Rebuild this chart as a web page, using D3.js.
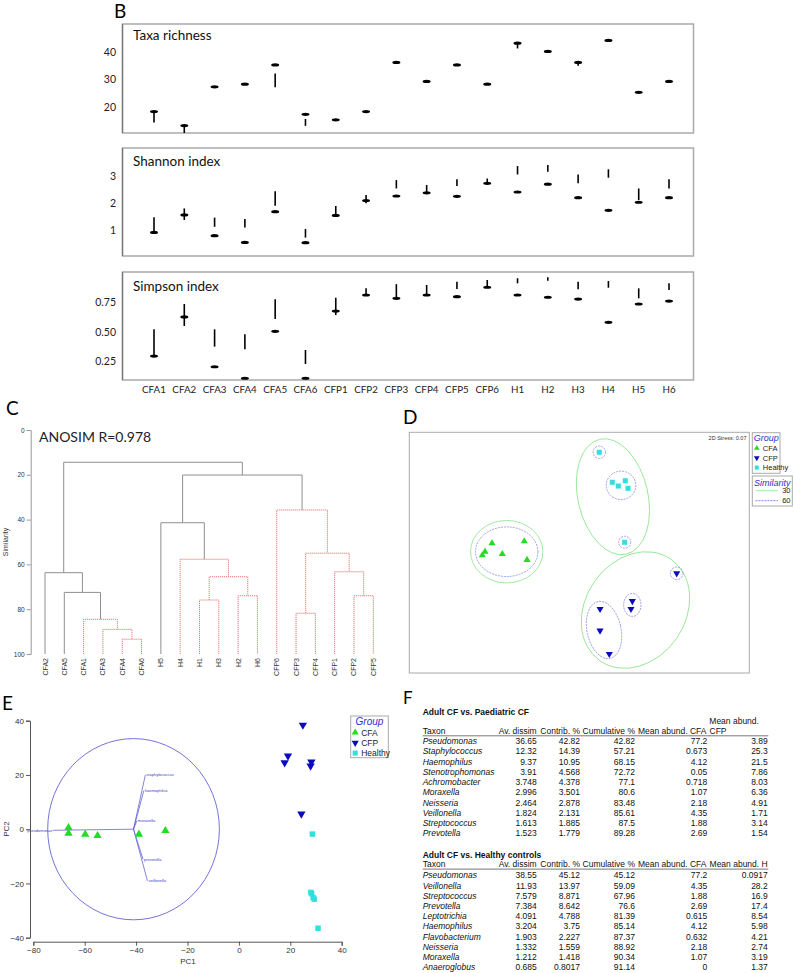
<!DOCTYPE html>
<html><head><meta charset="utf-8">
<script src="https://cdn.jsdelivr.net/npm/d3@7"></script>
<style>body{margin:0;background:#fff}svg{display:block}</style>
</head><body>
<svg id="c" width="794" height="973"></svg>
<script>
// ---------------- DATA ----------------
const samples = ["CFA1","CFA2","CFA3","CFA4","CFA5","CFA6","CFP1","CFP2","CFP3","CFP4","CFP5","CFP6","H1","H2","H3","H4","H5","H6"];

const richMean = [18.3,13.2,27.3,28.3,35.3,17.3,15.3,18.3,36.2,29.3,35.3,28.3,43.2,40.2,36.2,44.2,25.3,29.3];
const richLo   = [14.3,10.5,null,null,27.2,13.1,null,null,null,null,null,null,41.3,null,35.0,null,null,null];
const richHi   = [18.3,13.2,null,null,32.2,15.6,null,null,null,null,null,null,43.2,null,36.2,null,null,null];

const shanMean = [0.91,1.56,0.79,0.54,1.68,0.53,1.54,2.09,2.26,2.38,2.25,2.73,2.41,2.70,2.20,1.73,2.03,2.20];
const shanLo   = [0.91,1.37,1.12,1.09,1.90,0.72,1.54,1.99,2.54,2.38,2.63,2.73,3.06,3.16,2.73,2.94,2.11,2.54];
const shanHi   = [1.47,1.80,1.46,1.41,2.44,1.04,1.89,2.30,2.85,2.67,2.88,2.91,3.37,3.41,3.06,3.25,2.54,2.88];

const simpMean = [0.295,0.624,0.205,0.108,0.503,0.108,0.674,0.809,0.781,0.809,0.795,0.874,0.809,0.790,0.775,0.579,0.733,0.758];
const simpLo   = [0.295,0.548,0.374,0.352,0.607,0.228,0.640,0.809,0.781,0.809,0.860,0.874,0.907,0.929,0.857,0.870,0.781,0.851];
const simpHi   = [0.520,0.733,0.520,0.478,0.773,0.346,0.786,0.865,0.900,0.893,0.920,0.935,0.950,0.958,0.920,0.927,0.865,0.907];

const richTicks = [20,30,40];
const shanTicks = [1,2,3];
const simpTicks = [0.25,0.50,0.75];

// Dendrogram (C)
const dLeaves = ["CFA2","CFA5","CFA1","CFA3","CFA4","CFA6","H5","H4","H1","H3","H2","H6","CFP6","CFP3","CFP4","CFP1","CFP2","CFP5"];
// [left, right, similarity, simprof-red]
const dMerges = [
  ["CFA4","CFA6",93.4,1], // m0
  ["CFA3","m0",89.0,1],   // m1
  ["CFA1","m1",84.5,1],   // m2
  ["CFA5","m2",72.5,0],   // m3
  ["CFA2","m3",63.7,0],   // m4
  ["H1","H3",75.9,1],     // m5
  ["H2","H6",74.0,1],     // m6
  ["m5","m6",65.5,1],     // m7
  ["H4","m7",57.7,1],     // m8
  ["H5","m8",41.4,0],     // m9
  ["CFP2","CFP5",74.0,1], // m10
  ["CFP1","m10",63.3,1],  // m11
  ["CFP3","CFP4",81.8,1], // m12
  ["m12","m11",55.0,1],   // m13
  ["CFP6","m13",35.7,1],  // m14
  ["m9","m14",20.1,0],    // m15
  ["m4","m15",14.4,0]     // m16
];
const simTicks = [0,20,40,60,80,100];

// nMDS (D)
const mdsGroups = ["CFA","CFP","Healthy"];
const mdsCFA = [[-1.027,0.110],[-1.109,0.011],[-1.141,-0.031],[-0.906,-0.016],[-0.647,0.134],[-0.615,-0.086]];
const mdsCFP = [[1.146,-0.243],[0.624,-0.569],[0.608,-0.663],[0.244,-0.663],[0.244,-0.918],[0.353,-1.192]];
const mdsH   = [[0.235,1.181],[0.388,0.828],[0.459,0.784],[0.541,0.846],[0.573,0.757],[0.534,0.122]];
// similarity contours: [cx, cy, rx, ry, rotation]
const contour30 = [[-0.854,0.011,0.426,0.368,0],[0.396,0.658,0.412,0.694,-13],[0.661,-0.675,0.588,0.729,35]];
const contour60 = [[-0.854,0.011,0.367,0.292,0],[0.235,1.181,0.073,0.073,0],[0.491,0.792,0.174,0.167,0],
                   [0.534,0.122,0.071,0.071,0],[1.146,-0.243,0.074,0.074,0],[0.624,-0.616,0.102,0.135,0],[0.291,-0.910,0.2,0.341,-12]];
const simLevels = ["30","60"];

// PCA (E)
const pcaCFA = [[-66.3,0.55],[-66.3,-1.5],[-59.8,-1.9],[-55.0,-2.4],[-38.9,-1.9],[-28.6,-0.55]];
const pcaCFP = [[24.9,38.4],[19.1,27.0],[17.8,24.5],[28.2,24.8],[27.9,23.3],[24.3,5.6]];
const pcaH   = [[28.6,-1.8],[28.0,-23.3],[28.3,-23.8],[28.9,-25.2],[29.3,-25.8],[30.8,-36.5]];
const pcaOrigin = [-41,0];
const pcaRadius = 33.4;
const pcaVectors = ["pseudomonas","staphylococcus","haemophilus","moraxella","prevotella","veillonella"];
const pcaVecEnd = [[-72.4,-0.4],[-36.4,20.0],[-37.0,14.2],[-39.7,3.1],[-37.3,-11.1],[-35.6,-19.0]];
const pcaXTicks = [-80,-60,-40,-20,0,20,40];
const pcaYTicks = [-40,-20,0,20,40];

// SIMPER tables (F)
const taxa1 = ["Pseudomonas","Staphylococcus","Haemophilus","Stenotrophomonas","Achromobacter","Moraxella","Neisseria","Veillonella","Streptococcus","Prevotella"];
const avDis1 = [36.65,12.32,9.37,3.91,3.748,2.996,2.464,1.824,1.613,1.523];
const contr1 = [42.82,14.39,10.95,4.568,4.378,3.501,2.878,2.131,1.885,1.779];
const cumul1 = [42.82,57.21,68.15,72.72,77.1,80.6,83.48,85.61,87.5,89.28];
const mCFA1  = [77.2,0.673,4.12,0.05,0.718,1.07,2.18,4.35,1.88,2.69];
const mCFP1  = [3.89,25.3,21.5,7.86,8.03,6.36,4.91,1.71,3.14,1.54];

const taxa2 = ["Pseudomonas","Veillonella","Streptococcus","Prevotella","Leptotrichia","Haemophilus","Flavobacterium","Neisseria","Moraxella","Anaeroglobus"];
const avDis2 = [38.55,11.93,7.579,7.384,4.091,3.204,1.903,1.332,1.212,0.685];
const contr2 = [45.12,13.97,8.871,8.642,4.788,3.75,2.227,1.559,1.418,0.8017];
const cumul2 = [45.12,59.09,67.96,76.6,81.39,85.14,87.37,88.92,90.34,91.14];
const mCFA2  = [77.2,4.35,1.88,2.69,0.615,4.12,0.632,2.18,1.07,0];
const mH2    = [0.0917,28.2,16.9,17.4,8.54,5.98,4.21,2.74,3.19,1.37];

// ---------------- DRAW ----------------
const svg = d3.select("#c");
const CAL = "Lato, 'Open Sans', sans-serif";
const ARIAL = "'Liberation Sans', Arial, sans-serif";
const GREEN = "#22dd22", BLUE = "#0a0ac0", CYAN = "#33dede", PERI = "#6464d2";

function letter(t, x, y, size) {
  svg.append("text").attr("x", x).attr("y", y).attr("font-family", CAL).attr("font-size", size || 19).attr("fill", "#000").text(t);
}

// ===== Panel B =====
letter("B", 114, 18, 19);
const xB = d3.scalePoint().domain(samples).range([154, 669]);
function diversityPanel(top, bottom, domain, ticks, fmt, title, mean, lo, hi, titleY) {
  const y = d3.scaleLinear().domain(domain).range([bottom, top]);
  const g = svg.append("g");
  g.append("rect").attr("x", 122.5).attr("y", top).attr("width", 571).attr("height", bottom - top)
    .attr("fill", "none").attr("stroke", "#aaa").attr("stroke-width", 1.5);
  g.append("line").attr("x1", 122.5).attr("x2", 122.5).attr("y1", top).attr("y2", bottom).attr("stroke", "#777").attr("stroke-width", 1.3);
  const ax = d3.axisLeft(y).tickValues(ticks).tickFormat(fmt).tickSize(0).tickPadding(7);
  const a = g.append("g").attr("transform", "translate(116,0)").call(ax);
  a.select(".domain").remove();
  a.selectAll("text").attr("font-family", CAL).attr("font-size", 10.5).attr("fill", "#222").attr("x", 0);
  g.append("text").attr("x", 133).attr("y", titleY).attr("font-family", CAL).attr("font-size", 13.5).attr("fill", "#111").text(title);
  samples.forEach((s, i) => {
    if (lo[i] != null && hi[i] != null && hi[i] > lo[i]) {
      g.append("line").attr("x1", xB(s)).attr("x2", xB(s)).attr("y1", y(lo[i])).attr("y2", y(hi[i]))
        .attr("stroke", "#000").attr("stroke-width", 1.6);
    }
    g.append("ellipse").attr("cx", xB(s)).attr("cy", y(mean[i])).attr("rx", 4).attr("ry", 1.6).attr("fill", "#000");
  });
  return g;
}
diversityPanel(24, 133, [10.5, 50.2], richTicks, d3.format("d"), "Taxa richness", richMean, richLo, richHi, 40);
diversityPanel(148, 256, [0.037, 4.04], shanTicks, d3.format("d"), "Shannon index", shanMean, shanLo, shanHi, 166);
diversityPanel(272, 380, [0.0934, 1.0025], simpTicks, d3.format(".2f"), "Simpson index", simpMean, simpLo, simpHi, 291);
samples.forEach(s => {
  svg.append("text").attr("x", xB(s)).attr("y", 393).attr("text-anchor", "middle")
    .attr("font-family", CAL).attr("font-size", 9.8).attr("fill", "#222").text(s);
});

// ===== Panel C =====
letter("C", 6, 415, 19);
const xC = d3.scalePoint().domain(dLeaves).range([45, 373.3]);
const yC = d3.scaleLinear().domain([0, 100]).range([430, 654]);
const nodes = {};
dLeaves.forEach(n => nodes[n] = {name: n, height: 100});
dMerges.forEach((m, i) => {
  nodes["m" + i] = {name: "m" + i, height: m[2], sig: m[3], children: [nodes[m[0]], nodes[m[1]]]};
});
const root = d3.hierarchy(nodes["m" + (dMerges.length - 1)]);
root.eachAfter(d => {
  d.px = d.children ? d3.mean(d.children, c => c.px) : xC(d.data.name);
  d.py = yC(d.data.height);
});
const cg = svg.append("g");
root.each(d => {
  if (!d.children) return;
  const col = d.data.sig ? "#e87878" : "#8f8f8f";
  const dash = d.data.sig ? "1.2,0.8" : null;
  const p = d3.path();
  p.moveTo(d.children[0].px, d.children[0].py);
  p.lineTo(d.children[0].px, d.py);
  p.lineTo(d.children[1].px, d.py);
  p.lineTo(d.children[1].px, d.children[1].py);
  cg.append("path").attr("d", p.toString()).attr("fill", "none").attr("stroke", col)
    .attr("stroke-width", 1).attr("stroke-dasharray", dash);
});
const ay = svg.append("g").attr("transform", "translate(30.7,0)").call(d3.axisLeft(yC).tickValues(simTicks).tickSize(4).tickPadding(2));
ay.select(".domain").attr("stroke", "#999");
ay.selectAll(".tick line").attr("stroke", "#999");
ay.selectAll("text").attr("font-family", ARIAL).attr("font-size", 6.5).attr("fill", "#333");
svg.append("text").attr("transform", "translate(8,542) rotate(-90)").attr("text-anchor", "middle")
  .attr("font-family", ARIAL).attr("font-size", 7).attr("fill", "#333").text("Similarity");
svg.append("text").attr("x", 39).attr("y", 442).attr("font-family", CAL).attr("font-size", 14).attr("fill", "#222").text("ANOSIM R=0.978");
dLeaves.forEach(n => {
  svg.append("text").attr("transform", `translate(${xC(n) + 2.5},658) rotate(-90)`).attr("text-anchor", "end")
    .attr("font-family", ARIAL).attr("font-size", 7).attr("fill", "#333").text(n);
});

// ===== Panel D =====
letter("D", 403, 424, 19);
const xD = d3.scaleLinear().domain([-2, 2]).range([409.3, 749.3]);
const yD = d3.scaleLinear().domain([-1.416, 1.416]).range([673, 432.3]);
svg.append("rect").attr("x", 409.3).attr("y", 432.3).attr("width", 340).attr("height", 240.7)
  .attr("fill", "none").attr("stroke", "#aaa").attr("stroke-width", 1);
function contour(g, c, col, dash, w) {
  const cx = xD(c[0]), cy = yD(c[1]);
  g.append("ellipse").attr("cx", 0).attr("cy", 0)
    .attr("rx", xD(c[2]) - xD(0)).attr("ry", yD(0) - yD(c[3]))
    .attr("transform", `translate(${cx},${cy}) rotate(${c[4]})`)
    .attr("fill", "none").attr("stroke", col).attr("stroke-width", w).attr("stroke-dasharray", dash);
}
const dg = svg.append("g");
contour30.forEach(c => contour(dg, c, "#98e698", null, 0.9));
contour60.forEach(c => contour(dg, c, "#7a7adc", "2,1", 0.7));
const triUp = d3.symbol().type(d3.symbolTriangle);
const sq = d3.symbol().type(d3.symbolSquare);
function drawPts(g, pts, xs, ys, kind, size) {
  pts.forEach(p => {
    const tx = xs(p[0]), ty = ys(p[1]);
    if (kind === "CFA") g.append("path").attr("d", triUp.size(size)()).attr("transform", `translate(${tx},${ty})`).attr("fill", GREEN);
    else if (kind === "CFP") g.append("path").attr("d", triUp.size(size)()).attr("transform", `translate(${tx},${ty}) rotate(180)`).attr("fill", BLUE);
    else g.append("path").attr("d", sq.size(size * 1.15)()).attr("transform", `translate(${tx},${ty})`).attr("fill", CYAN);
  });
}
drawPts(dg, mdsCFA, xD, yD, "CFA", 22);
drawPts(dg, mdsCFP, xD, yD, "CFP", 22);
drawPts(dg, mdsH, xD, yD, "H", 22);
svg.append("text").attr("x", 746.5).attr("y", 440).attr("text-anchor", "end").attr("font-family", ARIAL)
  .attr("font-size", 5.5).attr("fill", "#333").text("2D Stress: 0.07");
// legend D
function legend(x, y, w, h, items, fs, dy, mk) {
  const g = svg.append("g");
  g.append("rect").attr("x", x).attr("y", y).attr("width", w).attr("height", h).attr("fill", "#fff").attr("stroke", "#aaa").attr("stroke-width", 1);
  g.append("text").attr("x", x + w / 2).attr("y", y + fs + 0.5).attr("text-anchor", "middle").attr("font-family", ARIAL)
    .attr("font-style", "italic").attr("font-size", fs + 1.5).attr("fill", "#3030d0").text("Group");
  items.forEach((it, i) => {
    const cy = y + fs + 8 + i * dy;
    const m = i === 0 ? "CFA" : i === 1 ? "CFP" : "H";
    drawPts(g, [[x + 4.5, cy]], v => v, v => v, m, mk);
    g.append("text").attr("x", x + 10.5).attr("y", cy + fs * 0.36).attr("font-family", ARIAL).attr("font-size", fs).attr("fill", "#222").text(it);
  });
}
legend(752.3, 432.7, 27.7, 40.6, mdsGroups, 7.5, 9.7, 14);
{
  const g = svg.append("g");
  g.append("rect").attr("x", 752.3).attr("y", 476).attr("width", 40).attr("height", 30).attr("fill", "#fff").attr("stroke", "#aaa");
  g.append("text").attr("x", 772.3).attr("y", 486).attr("text-anchor", "middle").attr("font-family", ARIAL)
    .attr("font-style", "italic").attr("font-size", 9).attr("fill", "#3030d0").text("Similarity");
  simLevels.forEach((s, i) => {
    const yy = 490.7 + i * 10;
    g.append("line").attr("x1", 755.5).attr("x2", 778).attr("y1", yy).attr("y2", yy)
      .attr("stroke", i === 0 ? "#98e698" : "#7a7adc").attr("stroke-width", 0.9).attr("stroke-dasharray", i === 0 ? null : "2,1");
    g.append("text").attr("x", 790.5).attr("y", yy + 2.6).attr("text-anchor", "end").attr("font-family", ARIAL)
      .attr("font-size", 7.5).attr("fill", "#222").text(s);
  });
}

// ===== Panel E =====
letter("E", 2, 710, 19);
const xE = d3.scaleLinear().domain([-80, 40]).range([33.3, 341.7]);
const yE = d3.scaleLinear().domain([-40, 40]).range([937.7, 720.7]);
const eg = svg.append("g");
const axE = eg.append("g").attr("transform", "translate(0,941.7)").call(d3.axisBottom(xE).tickValues(pcaXTicks).tickSize(4).tickPadding(2));
const ayE = eg.append("g").attr("transform", "translate(30,0)").call(d3.axisLeft(yE).tickValues(pcaYTicks).tickSize(4).tickPadding(2));
[axE, ayE].forEach(a => {
  a.select(".domain").attr("stroke", "#555");
  a.selectAll(".tick line").attr("stroke", "#555");
  a.selectAll("text").attr("font-family", ARIAL).attr("font-size", 8).attr("fill", "#333");
});
eg.append("text").attr("x", 188).attr("y", 963.5).attr("text-anchor", "middle").attr("font-family", ARIAL).attr("font-size", 8).attr("fill", "#333").text("PC1");
eg.append("text").attr("transform", "translate(8.5,829) rotate(-90)").attr("text-anchor", "middle").attr("font-family", ARIAL).attr("font-size", 8).attr("fill", "#333").text("PC2");
eg.append("ellipse").attr("cx", xE(pcaOrigin[0])).attr("cy", yE(pcaOrigin[1]))
  .attr("rx", xE(pcaOrigin[0] + pcaRadius) - xE(pcaOrigin[0])).attr("ry", yE(0) - yE(pcaRadius))
  .attr("fill", "none").attr("stroke", PERI).attr("stroke-width", 0.9);
pcaVectors.forEach((v, i) => {
  const e = pcaVecEnd[i];
  eg.append("line").attr("x1", xE(pcaOrigin[0])).attr("y1", yE(pcaOrigin[1])).attr("x2", xE(e[0])).attr("y2", yE(e[1]))
    .attr("stroke", PERI).attr("stroke-width", 0.8);
  const left = e[0] < pcaOrigin[0] - 10;
  eg.append("text").attr("x", left ? xE(e[0]) - 0.5 : xE(e[0]) + 1).attr("y", yE(e[1]) + 1.5)
    .attr("text-anchor", left ? "end" : "start").attr("font-family", ARIAL).attr("font-size", 4).attr("fill", "#4040c8").text(v);
});
drawPts(eg, pcaCFA, xE, yE, "CFA", 30);
drawPts(eg, pcaCFP, xE, yE, "CFP", 30);
drawPts(eg, pcaH, xE, yE, "H", 26);
legend(350.7, 716, 37.6, 41.7, mdsGroups, 8.5, 10.3, 22);

// ===== Panel F =====
letter("F", 403, 704, 17);
const FS = 8.5;
const colRight = [536.7, 580, 635, 706.5, 767.7];
function fText(x, y, t, opts) {
  const o = opts || {};
  svg.append("text").attr("x", x).attr("y", y).attr("text-anchor", o.anchor || "start")
    .attr("font-family", ARIAL).attr("font-size", o.size || FS).attr("font-weight", o.bold ? "bold" : null)
    .attr("font-style", o.italic ? "italic" : null).attr("fill", "#111").text(t);
}
function simperTable(titleY, headY, rowY0, title, headers, taxa, cols) {
  fText(422.7, titleY, title, {bold: true});
  fText(422.7, headY, "Taxon");
  headers.forEach((h, i) => { if (h) fText(colRight[i], headY, h, {anchor: "end"}); });
  svg.append("line").attr("x1", 422.7).attr("x2", 768.3).attr("y1", headY + 1.8).attr("y2", headY + 1.8).attr("stroke", "#555").attr("stroke-width", 0.8);
  taxa.forEach((t, r) => {
    const yy = rowY0 + r * 10.22;
    fText(422.7, yy, t, {italic: true});
    cols.forEach((c, j) => fText(j === 3 ? 707.3 : colRight[j], yy, String(c[r]), {anchor: "end"}));
  });
}
simperTable(715, 734, 744.2, "Adult CF vs. Paediatric CF",
  ["Av. dissim", "Contrib. %", "Cumulative %", "Mean abund. CFA", null], taxa1, [avDis1, contr1, cumul1, mCFA1, mCFP1]);
fText(709.3, 724.3, "Mean abund.");
fText(709.5, 734, "CFP");
simperTable(857.7, 867.3, 878.3, "Adult CF vs. Healthy controls",
  ["Av. dissim", "Contrib. %", "Cumulative %", "Mean abund. CFA", "Mean abund. H"], taxa2, [avDis2, contr2, cumul2, mCFA2, mH2]);
</script>
</body></html>
